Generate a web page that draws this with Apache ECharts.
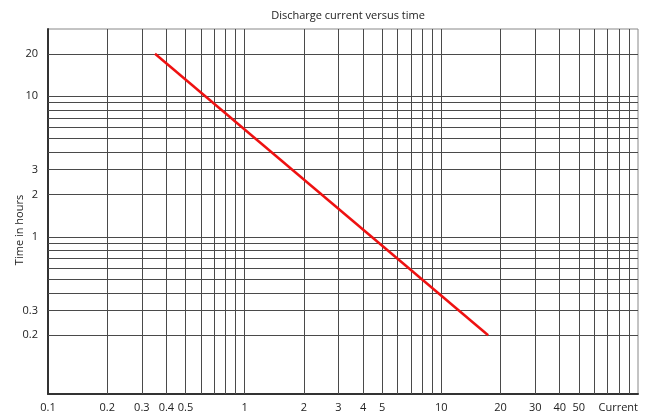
<!DOCTYPE html>
<html><head><meta charset="utf-8">
<script src="https://cdn.jsdelivr.net/npm/echarts@6/dist/echarts.min.js"></script>
<style>html,body{margin:0;padding:0;background:#fff}#c{width:659px;height:417px}</style>
</head><body><div id="c"></div>
<script>
// Axis ranges (log scales)
const xRange = [0.1, 100];
const yRange = [0.0764, 30];
// Grid line values
const xGridValues = [0.1,0.2,0.3,0.4,0.5,0.6,0.7,0.8,0.9,1,2,3,4,5,6,7,8,9,10,20,30,40,50,60,70,80,90,100];
const yGridValues = [0.2,0.3,0.4,0.5,0.6,0.7,0.8,0.9,1,2,3,4,5,6,7,8,9,10,20];
// Tick labels
const xTickLabels = [0.1,0.2,0.3,0.4,0.5,1,2,3,4,5,10,20,30,40,50];
const yTickLabels = [0.2,0.3,1,2,3,10,20];
const xAxisName = 'Current';
const yAxisName = 'Time in hours';
// Series: discharge curve
const currentValues = [0.35, 17.3];
const timeValues = [20, 0.2];

const FONT = 'Open Sans';
const TXT = '#222';
const GRID_COLOR = '#4a4a4a';

const vLines = xGridValues.map(v => {
  const isEdge = (v === xRange[0] || v === xRange[1]);
  const hasLabel = xTickLabels.indexOf(v) >= 0;
  const isName = v === xRange[1];
  return [
    {
      coord: [v, yRange[0]],
      lineStyle: { color: isEdge ? 'rgba(0,0,0,0)' : GRID_COLOR, width: 1, type: 'solid' },
      label: {
        show: hasLabel || isName,
        position: 'start',
        formatter: isName ? xAxisName : String(v),
        align: isName ? 'right' : 'center',
        verticalAlign: 'top',
        distance: 8,
        color: TXT, fontFamily: FONT, fontSize: 11
      }
    },
    { coord: [v, yRange[1]] }
  ];
});
const hLines = yGridValues.map(v => {
  const hasLabel = yTickLabels.indexOf(v) >= 0;
  return [
    {
      coord: [xRange[0], v],
      lineStyle: { color: GRID_COLOR, width: 1, type: 'solid' },
      label: {
        show: hasLabel,
        position: 'start',
        formatter: String(v),
        align: 'right',
        verticalAlign: 'middle',
        distance: 10,
        color: TXT, fontFamily: FONT, fontSize: 11
      }
    },
    { coord: [xRange[1], v] }
  ];
});

const chart = echarts.init(document.getElementById('c'), null, { renderer: 'canvas' });
chart.setOption({
  animation: false,
  backgroundColor: '#fff',
  title: {
    text: 'Discharge current versus time',
    left: 343, top: 5, textAlign: 'center',
    textStyle: { fontFamily: FONT, fontSize: 11, fontWeight: 'normal', color: TXT }
  },
  grid: { left: 48, right: 21, top: 29, bottom: 23, show: true, borderColor: '#888', borderWidth: 1, backgroundColor: 'transparent' },
  xAxis: {
    type: 'log', logBase: 10, min: xRange[0], max: xRange[1],
    axisLine: { show: true, onZero: false, lineStyle: { color: '#333', width: 2 } },
    axisTick: { show: false }, axisLabel: { show: false }, splitLine: { show: false }, minorSplitLine: { show: false }
  },
  yAxis: {
    type: 'log', logBase: 10, min: yRange[0], max: yRange[1],
    axisLine: { show: true, onZero: false, lineStyle: { color: '#333', width: 2 } },
    axisTick: { show: false }, axisLabel: { show: false }, splitLine: { show: false }, minorSplitLine: { show: false }
  },
  graphic: [{
    type: 'text', x: 20, y: 230, rotation: Math.PI / 2,
    style: { text: yAxisName, fontFamily: FONT, fontSize: 11, fill: TXT, align: 'center', verticalAlign: 'middle' }
  }],
  series: [
    {
      type: 'line', data: [], silent: true, z: 1,
      markLine: {
        silent: true, symbol: ['none', 'none'], z: 1, animation: false,
        data: vLines.concat(hLines)
      }
    },
    {
      type: 'line', z: 5, showSymbol: false, symbol: 'none',
      lineStyle: { color: '#ee1111', width: 2.5 },
      data: currentValues.map((c, i) => [c, timeValues[i]])
    }
  ]
});
</script></body></html>
